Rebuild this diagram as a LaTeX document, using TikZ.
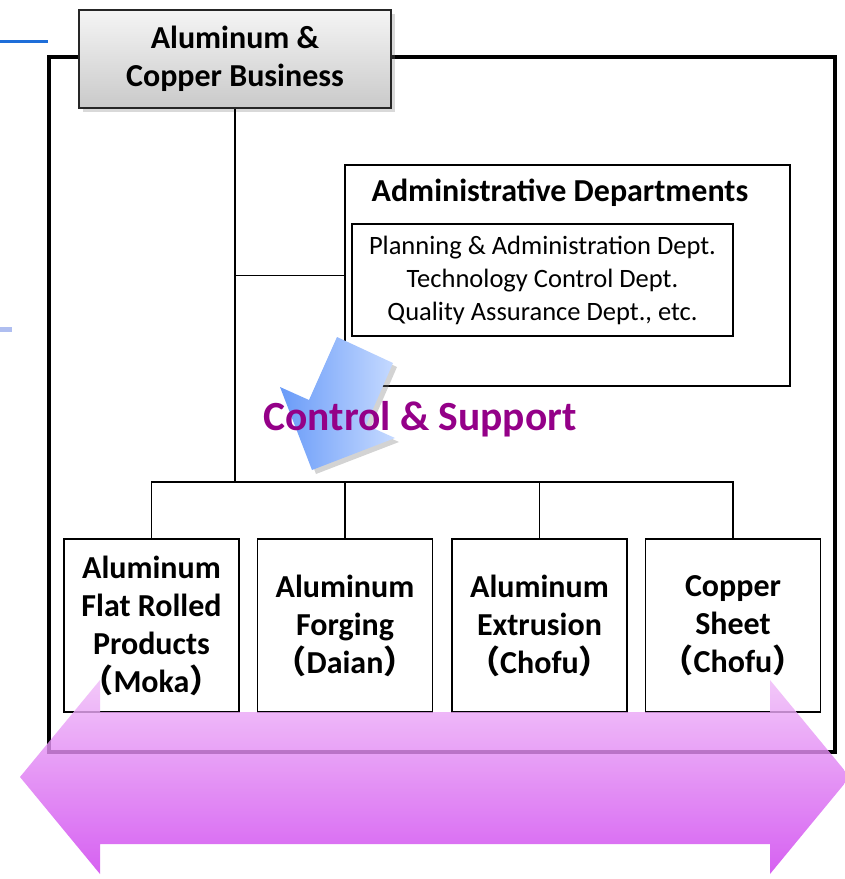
\documentclass[tikz,border=0pt]{standalone}
\usepackage{fontspec}
\setmainfont{Carlito}
\newfontfamily\cjk{Noto Sans CJK JP}
\usetikzlibrary{shadows}

\definecolor{ctrlpurple}{RGB}{148,0,136}
\definecolor{linkblue}{RGB}{30,110,217}
\definecolor{paleblue}{RGB}{175,190,240}
\definecolor{arrowblue}{RGB}{105,155,248}
\definecolor{arrowlight}{RGB}{198,218,255}
\definecolor{flowtop}{RGB}{240,188,248}
\definecolor{flowbot}{RGB}{205,62,238}

\newcommand\jlp{{\cjk\bfseries （}}
\newcommand\jrp{{\cjk\bfseries ）}}

\begin{document}
\begin{tikzpicture}[x=1pt, y=-1pt,
  bigtext/.style={font=\bfseries\fontsize{32}{38}\selectfont},
  unitbox/.style={bigtext, draw, line width=1.5pt, fill=white, align=center,
    minimum width=175pt, minimum height=173pt, inner sep=0pt},
  link/.style={line width=1.5pt}]
\useasboundingbox (0,0) rectangle (845,879);

% outer frame and the stray blue strokes at the left
\draw[line width=4pt] (49,57) rectangle (835,752);
\draw[linkblue, line width=3pt] (0,41) -- (48,41);
\draw[paleblue, line width=5pt] (0,329) -- (12,329);

% head box
\node[bigtext, draw=black!85, line width=1.5pt, align=center,
  top color=gray!8, bottom color=gray!42,
  drop shadow={shadow xshift=4pt, shadow yshift=-4pt, opacity=.3},
  minimum width=312pt, minimum height=98pt, inner sep=0pt] (head) at (235,59)
  {Aluminum \&\\Copper Business};

% administrative departments
\node[draw, line width=1.5pt, minimum width=445pt, minimum height=221pt,
  inner sep=0pt] (admin) at (567.5,275.5) {};
\node[bigtext, anchor=base] (admintitle) at (560,201) {Administrative Departments};
\node[draw, line width=1.5pt, minimum width=381pt, minimum height=112pt,
  inner sep=0pt, align=center, font=\fontsize{26.5}{33}\selectfont] (depts) at (542.5,280)
  {Planning \& Administration Dept.\\Technology Control Dept.\\Quality Assurance Dept., etc.};

% business units
\node[unitbox] (flat) at (151.5,625.5) {Aluminum\\Flat Rolled\\Products\\\jlp Moka\jrp};
\node[unitbox] (forge) at (345,625.5) {Aluminum\\Forging\\\jlp Daian\jrp};
\node[unitbox] (extr) at (539.5,625.5) {Aluminum\\Extrusion\\\jlp Chofu\jrp};
\node[unitbox] (sheet) at (733,625.5) {Copper\\Sheet\\\jlp Chofu\jrp};

% connectors
\coordinate (bus) at (235,482);
\draw[link] (head.south) -- (bus);
\draw[link] (admin.west) -- (admin.west -| head.south);
\foreach \u in {flat,forge,extr,sheet}
  \draw[link] (\u.north) |- (bus);

% control & support arrow
\path[left color=arrowblue, right color=arrowlight,
  drop shadow={shadow xshift=4pt, shadow yshift=-4pt, opacity=.35}]
  (337,337) -- (393,363) -- (366,425) -- (395,438) -- (312,470)
  -- (280,387) -- (309,400) -- cycle;
\node[font=\bfseries\fontsize{41.5}{44}\selectfont, text=ctrlpurple, anchor=base]
  (ctrl) at (420,430) {Control \& Support};

% cooperation arrow across the units
\shade[top color=flowtop, bottom color=flowbot, fill opacity=.82]
  (20,777) -- (100,680) -- (100,712) -- (770,712) -- (770,680) -- (850,777)
  -- (770,874) -- (770,844) -- (100,844) -- (100,874) -- cycle;
\end{tikzpicture}
\end{document}
